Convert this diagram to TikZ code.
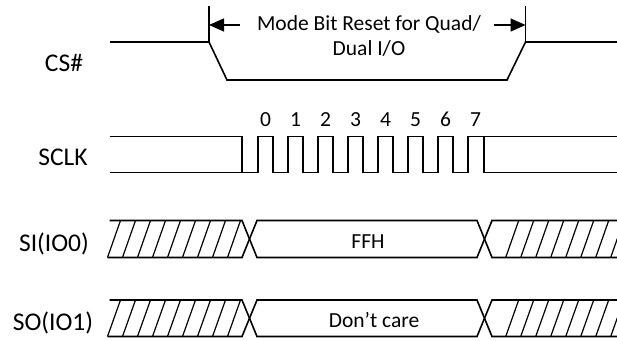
\documentclass[tikz,border=0pt]{standalone}
\usepackage{fontspec}
\setmainfont{Carlito}
\usetikzlibrary{arrows.meta}
\definecolor{wfLine}{HTML}{000000}
\tikzset{
  wave/.style={draw=wfLine, line width=1.6bp},
  hatch/.style={draw=wfLine, line width=1.2bp},
  sigLabel/.style={anchor=base, inner sep=0pt, font=\fontsize{25.5bp}{30bp}\selectfont},
  wfText/.style={anchor=base, inner sep=0pt, font=\fontsize{21.5bp}{25bp}\selectfont},
  dimArrow/.style={draw=wfLine, line width=1.5bp, -{Triangle[length=15bp,width=13bp]}},
}
\begin{document}
\begin{tikzpicture}[x=1bp, y=-1bp]
\useasboundingbox (0,0) rectangle (617,340);

%% signal names =====================================================
\node[sigLabel] (lblCS)   at (64,71.5) {CS\#};
\node[sigLabel] (lblSCLK) at (63,165)  {SCLK};
\node[sigLabel] (lblSI)   at (54,251.5) {SI(IO0)};
\node[sigLabel] (lblSO)   at (53,330)  {SO(IO1)};

%% CS# with the reset window ========================================
\draw[wave] (110,42) -- (209,42) -- (227,80) -- (507,80) -- (525.5,42) -- (617,42);
\coordinate (mkL) at (209,6);
\coordinate (mkR) at (525.5,6);
\draw[wave] (mkL) -- (209,42);
\draw[wave] (mkR) -- (525.5,42);
\node[wfText, align=center, anchor=north] (modeTxt) at (369,15)
  {Mode Bit Reset for Quad/\\Dual I/O};
\coordinate (arrL) at (240,25);
\coordinate (arrR) at (494,25);
\draw[dimArrow] (arrL) -- (mkL |- arrL);
\draw[dimArrow] (arrR) -- (mkR |- arrR);

%% SCLK: 8 pulses ===================================================
\draw[wave] (110,136.5) -| (242,172.5);
\draw[wave] (110,172.5) -- (258,172.5)
  \foreach \k in {0,...,6} { |- ({273+30*\k},136.5) |- ({288+30*\k},172.5) }
  |- (617,136.5);
\draw[wave] (484,136.5) |- (617,172.5);
\foreach \b in {0,...,7}
  \node[wfText] (bit\b) at ({265.5+30*\b},126.7) {\b};

%% SI / SO buses ====================================================
\foreach \nm/\yt/\yb/\txt/\tx in {%
  si/220.5/257.5/FFH/368,%
  so/300/336.5/{Don’t care}/374%
} {
  \draw[wave] (109.5,\yt) -- (242,\yt) -- (257,\yb) -- (477,\yb) -- (492,\yt) -- (617,\yt);
  \draw[wave] (107.5,\yb) -- (242,\yb) -- (257,\yt) -- (477,\yt) -- (492,\yb) -- (617,\yb);
  \foreach \k in {0,...,8}
    \draw[hatch] ({107.5+15*\k},\yb) -- ({120.5+15*\k},\yt);
  \begin{scope}
    \clip (492,0) rectangle (617,340);
    \foreach \k in {0,...,7}
      \draw[hatch] ({505.7+15*\k},\yb) -- ({518.7+15*\k},\yt);
  \end{scope}
  \node[wfText] (\nm-data) at (\tx,{\yb-9}) {\txt};
}

\end{tikzpicture}
\end{document}
